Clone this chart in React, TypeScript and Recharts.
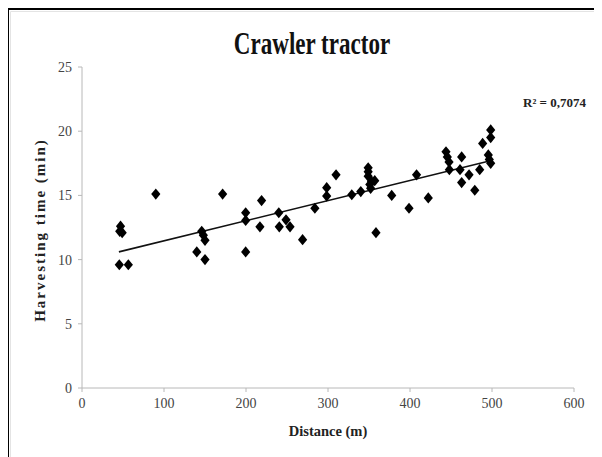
import React from 'react';
import { ScatterChart, Scatter, XAxis, YAxis, ReferenceLine } from 'recharts';

const distance: number[] = [
  47, 46, 49, 45.5, 56.5, 90, 140, 146, 148, 150, 150, 171.5, 199.6, 199.6, 199.6,
  219, 217, 240, 240.6, 248.8, 253.7, 269, 284, 298.4, 298.4, 309.8, 329, 340,
  349, 349, 349, 353, 357, 352, 351, 358.5, 377.7, 398.8, 408, 422.3,
  443.9, 445.5, 447.6, 448, 461, 463, 463, 472, 479, 485, 488.6, 495.5, 496.7, 498.4, 498.4, 498.4,
];
const harvestTime: number[] = [
  12.6, 12.2, 12.1, 9.6, 9.6, 15.1, 10.6, 12.2, 11.9, 11.5, 10.0, 15.1, 13.65, 13.05, 10.6,
  14.6, 12.55, 13.65, 12.55, 13.1, 12.55, 11.55, 14.0, 15.6, 14.95, 16.6, 15.05, 15.3,
  17.15, 16.85, 16.5, 16.1, 16.15, 15.55, 15.85, 12.1, 15.0, 14.0, 16.6, 14.8,
  18.4, 18.0, 17.6, 17.0, 17.0, 18.0, 16.0, 16.6, 15.4, 17.0, 19.05, 18.15, 17.8, 17.5, 20.1, 19.5,
];
const trendX: number[] = [45, 498];
const trendY: number[] = [10.6, 17.7];
const xTicks: number[] = [0, 100, 200, 300, 400, 500, 600];
const yTicks: number[] = [0, 5, 10, 15, 20, 25];
const title = 'Crawler tractor';
const xLabel = 'Distance (m)';
const yLabel = 'Harvesting time (min)';
const r2Label = 'R² = 0,7074';

const points = distance.map((d, i) => ({ x: d, y: harvestTime[i] }));

const Diamond = (props: any) => {
  const { cx, cy } = props;
  if (cx == null || cy == null) return null;
  const w = 4.6;
  const h = 5.6;
  return (
    <polygon
      points={`${cx},${cy - h} ${cx + w},${cy} ${cx},${cy + h} ${cx - w},${cy}`}
      fill="#000"
    />
  );
};

const W = 594;
const H = 449;
const serif = '"Liberation Serif", "Times New Roman", serif';

export default function App() {
  const tickStyle = { fontFamily: serif, fontSize: 14, fill: '#444' };
  return (
    <div style={{ position: 'relative', width: W, height: H, background: '#fff' }}>
      <ScatterChart width={W} height={H} margin={{ top: 59, right: 28, bottom: 0, left: 0 }}>
        <XAxis
          type="number"
          dataKey="x"
          domain={[0, 600]}
          ticks={xTicks}
          height={69}
          tickSize={4}
          tickMargin={6}
          stroke="#b8b8b8"
          tick={tickStyle}
          interval={0}
        />
        <YAxis
          type="number"
          dataKey="y"
          domain={[0, 25]}
          ticks={yTicks}
          width={74}
          tickSize={4}
          tickMargin={6}
          stroke="#b8b8b8"
          tick={tickStyle}
          interval={0}
        />
        <ReferenceLine
          segment={[
            { x: trendX[0], y: trendY[0] },
            { x: trendX[1], y: trendY[1] },
          ]}
          stroke="#111"
          strokeWidth={1.6}
          ifOverflow="visible"
        />
        <Scatter data={points} shape={<Diamond />} isAnimationActive={false} />
      </ScatterChart>
      <svg
        width={W}
        height={H}
        style={{ position: 'absolute', left: 0, top: 0, pointerEvents: 'none' }}
      >
        <line x1={0} y1={1} x2={W} y2={1} stroke="#000" strokeWidth={2} />
        <line x1={0} y1={0} x2={0} y2={H} stroke="#000" strokeWidth={2} />
        <line x1={2.5} y1={3.5} x2={W} y2={3.5} stroke="#e4e4e4" strokeWidth={1} />
        <line x1={2.5} y1={3.5} x2={2.5} y2={H} stroke="#e4e4e4" strokeWidth={1} />
        <text
          transform="translate(304 46) scale(0.72 1)"
          x={0}
          y={0}
          textAnchor="middle"
          fontFamily={serif}
          fontWeight="bold"
          fontSize={32}
          fill="#111"
        >
          {title}
        </text>
        <text x={515} y={99} fontFamily={serif} fontWeight="bold" fontSize={13} fill="#222">
          {r2Label}
        </text>
        <text
          x={320}
          y={428}
          textAnchor="middle"
          fontFamily={serif}
          fontWeight="bold"
          fontSize={14.5}
          fill="#222"
        >
          {xLabel}
        </text>
        <text
          x={32}
          y={222}
          transform="rotate(-90 32 222)"
          textAnchor="middle"
          dominantBaseline="central"
          fontFamily={serif}
          fontWeight="bold"
          fontSize={15}
          letterSpacing={2}
          fill="#222"
        >
          {yLabel}
        </text>
      </svg>
    </div>
  );
}
